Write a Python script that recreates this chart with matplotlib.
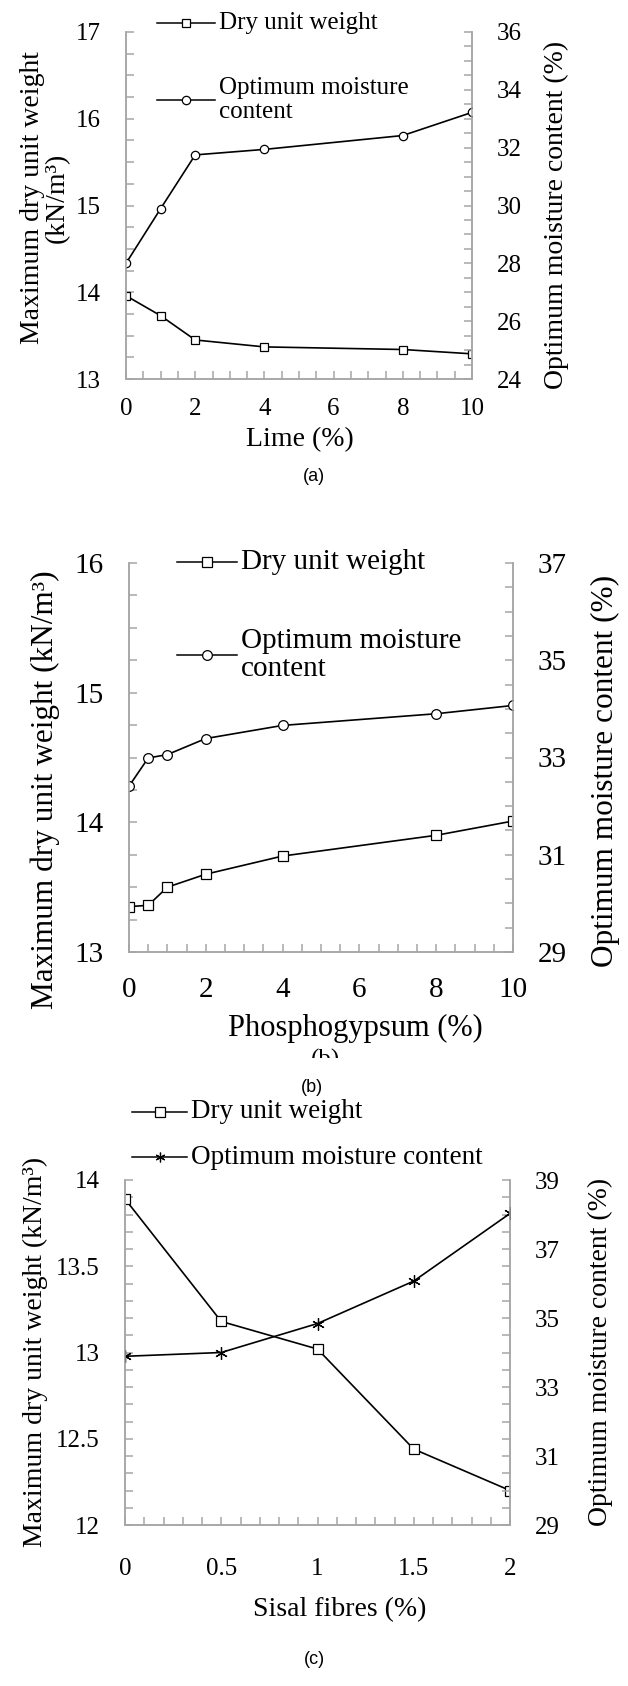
# Compaction curves: lime, phosphogypsum and sisal fibres
import matplotlib
matplotlib.use("Agg")
import matplotlib.pyplot as plt
from matplotlib.lines import Line2D
from matplotlib.patches import Rectangle
from matplotlib.ticker import MultipleLocator

plt.rcParams['font.family'] = ['Liberation Serif', 'DejaVu Serif']

# ---- data ----
lime_pct = [0, 1, 2, 4, 8, 10]
lime_dry_weight = [13.96, 13.73, 13.45, 13.37, 13.34, 13.29]
lime_omc = [28.0, 29.89, 31.75, 31.94, 32.42, 33.22]

pg_pct = [0, 0.5, 1, 2, 4, 8, 10]
pg_dry_weight = [13.35, 13.36, 13.50, 13.60, 13.74, 13.90, 14.01]
pg_omc = [32.41, 32.99, 33.06, 33.39, 33.66, 33.90, 34.07]

sisal_pct = [0, 0.5, 1, 1.5, 2]
sisal_dry_weight = [13.89, 13.18, 13.02, 12.44, 12.20]
sisal_omc = [33.89, 34.0, 34.84, 36.07, 38.03]

W, H = 628, 1686
GREY = '#a6a6a6'


def rect(l, t, r, b):
    return [l / W, 1 - b / H, (r - l) / W, (b - t) / H]


def fx(x):
    return x / W


def fy(y):
    return 1 - y / H


def style_axes(ax, ax2, xmaj, xmin, ymaj, ymin, y2maj, y2min, tsize, ypad, xpad, y2off=0):
    for a in (ax, ax2):
        a.spines['top'].set_visible(False)
        for s in ('left', 'right', 'bottom'):
            a.spines[s].set_color(GREY)
            a.spines[s].set_linewidth(1.1)
    ax.xaxis.set_major_locator(MultipleLocator(xmaj))
    ax.xaxis.set_minor_locator(MultipleLocator(xmin))
    ax.yaxis.set_major_locator(MultipleLocator(ymaj))
    ax.yaxis.set_minor_locator(MultipleLocator(ymin))
    ax2.yaxis.set_major_locator(MultipleLocator(y2maj, offset=y2off))
    ax2.yaxis.set_minor_locator(MultipleLocator(y2min))
    ax.tick_params(axis='both', which='both', direction='in', length=6, width=1.1,
                   color=GREY, labelsize=tsize, right=False, top=False)
    ax.tick_params(axis='y', which='major', pad=ypad)
    ax.tick_params(axis='x', which='major', pad=xpad)
    ax2.tick_params(axis='y', which='both', direction='in', length=6, width=1.1,
                    color=GREY, labelsize=tsize, pad=ypad)


def legend_keys(fig, x0, x1, rows, markers, msize, labels, fsize):
    for (y, m, lab) in zip(rows, markers, labels):
        xm = (x0 + x1) / 2
        ln = Line2D([fx(x0), fx(xm), fx(x1)], [fy(y)] * 3, transform=fig.transFigure,
                    color='black', lw=1.1, marker=m, markevery=[1], markersize=msize,
                    markerfacecolor='white', markeredgecolor='black', markeredgewidth=0.9)
        fig.add_artist(ln)
        fig.text(fx(x1 + 4), fy(y), lab, fontsize=fsize, va='center', ha='left',
                 linespacing=1.15)


fig = plt.figure(figsize=(W / 100, H / 100), dpi=100)

line_kw = dict(color='black', lw=1.2, markerfacecolor='white',
               markeredgecolor='black', markeredgewidth=0.9)

# ---------------- (a) Lime ----------------
ax = fig.add_axes(rect(126, 32, 472, 379))
ax2 = ax.twinx()
ax.plot(lime_pct, lime_dry_weight, marker='s', markersize=6, **line_kw)
ax2.plot(lime_pct, lime_omc, marker='o', markersize=6, **line_kw)
ax.set_xlim(0, 10)
ax.set_ylim(13, 17)
ax2.set_ylim(24, 36)
style_axes(ax, ax2, 2, 0.5, 1, 0.25, 2, 0.5, 18, 18, 14)
fig.text(fx(45), fy(198), 'Maximum dry unit weight\n(kN/m³)', rotation=90,
         fontsize=20, ha='center', va='center', multialignment='center', linespacing=1.0)
fig.text(fx(556), fy(215), 'Optimum moisture content (%)', rotation=90,
         fontsize=20, ha='center', va='center')
fig.text(fx(300), fy(440), 'Lime (%)', fontsize=20, ha='center', va='center')
legend_keys(fig, 157, 215, [23, 100], ['s', 'o'], 6,
            ['Dry unit weight', 'Optimum moisture\ncontent'], 18)
fig.text(fx(314), fy(477), '(a)', fontsize=13, ha='center', va='center',
         family='Liberation Sans')

# ---------------- (b) Phosphogypsum ----------------
ax = fig.add_axes(rect(129, 563, 513, 952))
ax2 = ax.twinx()
ax.plot(pg_pct, pg_dry_weight, marker='s', markersize=7, **line_kw)
ax2.plot(pg_pct, pg_omc, marker='o', markersize=7, **line_kw)
ax.set_xlim(0, 10)
ax.set_ylim(13, 16)
ax2.set_ylim(29, 37)
style_axes(ax, ax2, 2, 0.5, 1, 0.25, 2, 0.5, 21, 18, 18, y2off=1)
fig.text(fx(45), fy(790), 'Maximum dry unit weight (kN/m³)', rotation=90,
         fontsize=22.5, ha='center', va='center')
fig.text(fx(605), fy(771), 'Optimum moisture content (%)', rotation=90,
         fontsize=22.5, ha='center', va='center')
fig.text(fx(355), fy(1028), 'Phosphogypsum (%)', fontsize=22, ha='center', va='center')
legend_keys(fig, 177, 237, [562, 655], ['s', 'o'], 7,
            ['Dry unit weight', 'Optimum moisture\ncontent'], 21)
# clipped leftover label under the x axis title
fig.text(fx(325), fy(1060), '(b)', fontsize=18, ha='center', va='center', zorder=1)
fig.add_artist(Rectangle((0, fy(1078)), 1, (1078 - 1058) / H, transform=fig.transFigure,
                         facecolor='white', edgecolor='none', zorder=2))
fig.text(fx(312), fy(1087), '(b)', fontsize=13, ha='center', va='center',
         family='Liberation Sans', zorder=3)

# ---------------- (c) Sisal fibres ----------------
ax = fig.add_axes(rect(125, 1180, 510, 1525))
ax2 = ax.twinx()
ax.plot(sisal_pct, sisal_dry_weight, marker='s', markersize=7, **line_kw)
ax2.plot(sisal_pct, sisal_omc, marker=(6, 2, 0), markersize=9, **line_kw)
ax.set_xlim(0, 2)
ax.set_ylim(12, 14)
ax2.set_ylim(29, 39)
style_axes(ax, ax2, 0.5, 0.1, 0.5, 0.1, 2, 0.5, 18, 18, 24, y2off=1)
ax.yaxis.set_major_formatter(lambda v, p: f'{v:g}')
ax.xaxis.set_major_formatter(lambda v, p: f'{v:g}')
fig.text(fx(35), fy(1352), 'Maximum dry unit weight (kN/m³)', rotation=90,
         fontsize=20, ha='center', va='center')
fig.text(fx(600), fy(1352), 'Optimum moisture content (%)', rotation=90,
         fontsize=20, ha='center', va='center')
fig.text(fx(340), fy(1610), 'Sisal fibres (%)', fontsize=20, ha='center', va='center')
legend_keys(fig, 132, 187, [1112, 1157], ['s', (6, 2, 0)], 7,
            ['Dry unit weight', 'Optimum moisture content'], 19.5)
fig.text(fx(314), fy(1659), '(c)', fontsize=13, ha='center', va='center',
         family='Liberation Sans')

fig.savefig('out.png', dpi=100)
